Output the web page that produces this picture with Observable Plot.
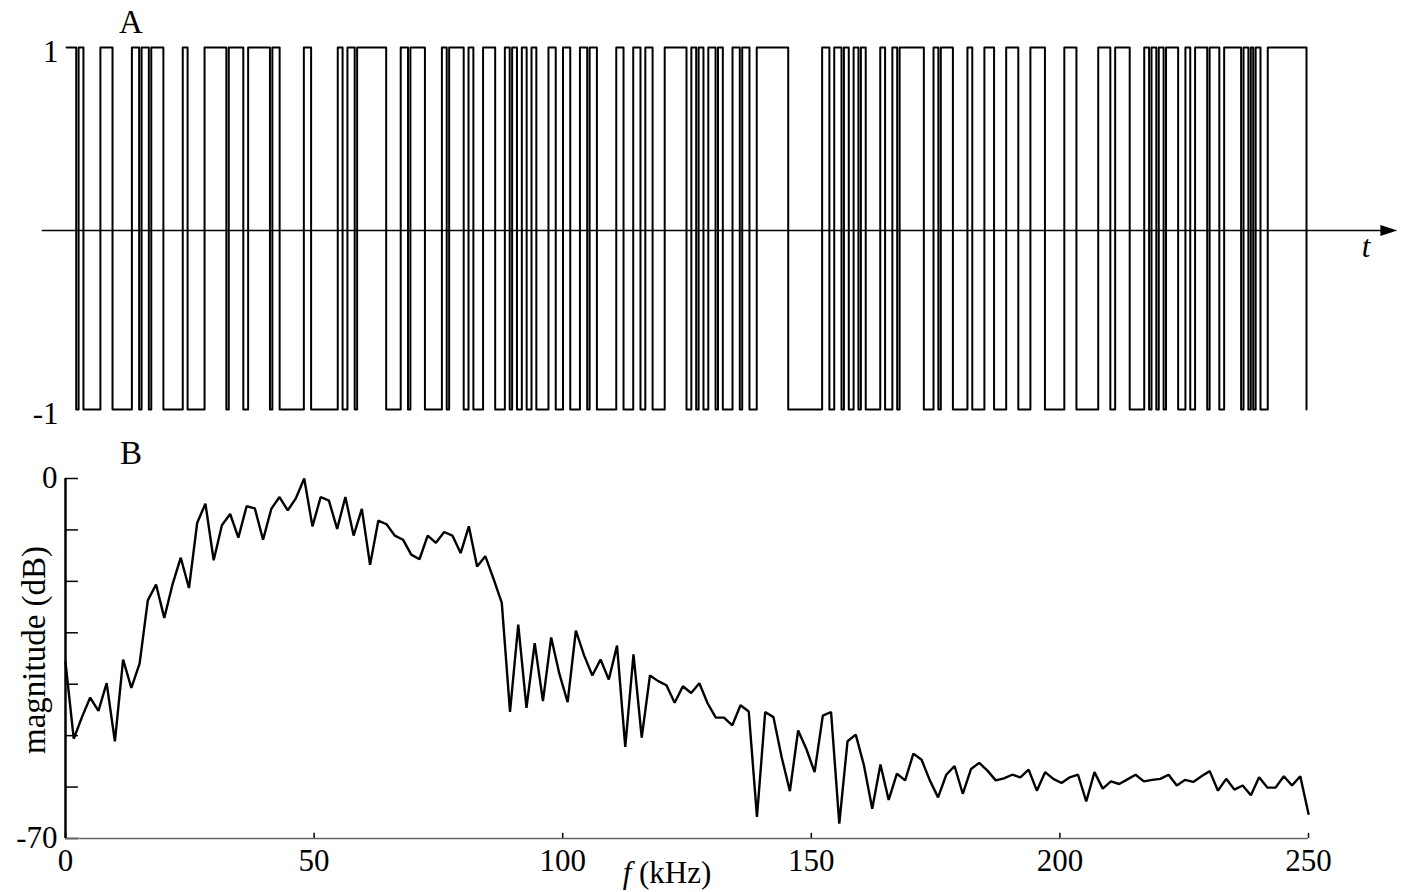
<!DOCTYPE html>
<html>
<head>
<meta charset="utf-8">
<script src="https://cdn.jsdelivr.net/npm/d3@7"></script>
<script src="https://cdn.jsdelivr.net/npm/@observablehq/plot@0.6"></script>
<style>
  html, body { margin: 0; padding: 0; background: #fff; }
  #chart svg { display: block; }
</style>
</head>
<body>
<div id="chart"></div>
<script>
// ---------- Panel A: binary sequence (chip index, level +1 / -1) ----------
const chipCount = 512;
// intervals (in chips) where the sequence is at +1; elsewhere it is -1
const highIntervals = [
  [0,4],[5,7],[14,19],[27,30],[31,34],[35,40],[48,50],[57,66],[67,73],[75,84],
  [85,88],[98,101],[112,114],[116,119],[120,132],[138,141],[142,148],[155,157],[158,164],[166,168],
  [172,177],[181,183],[184,186],[188,190],[192,194],[199,202],[205,208],[212,215],[216,219],[227,230],
  [234,237],[239,242],[247,256],[258,260],[261,263],[265,268],[269,271],[275,278],[279,282],[285,298],
  [312,315],[317,320],[321,323],[325,327],[328,330],[336,338],[341,343],[344,354],[358,360],[361,366],
  [372,374],[379,383],[388,393],[398,404],[412,417],[426,431],[433,439],[445,447],[448,450],[451,453],
  [454,459],[462,464],[466,471],[472,476],[478,485],[486,488],[489,490],[491,493],[496,512]
];
const levelTicks = [1, -1];
const levelTickLabels = ["1", "-1"];
const timeAxisExtent = [-10, 549.5];   // the t-axis runs a little past the sequence

// ---------- Panel B: magnitude spectrum ----------
const freqMaxKHz = 250;
const magnitudeDb = [
  -35.7,-50.6,-46.4,-42.6,-45.2,-39.8,-51.1,-35.2,-40.7,-36.0,
  -23.7,-20.6,-27.1,-20.6,-15.4,-21.3,-8.6,-4.9,-15.9,-9.1,
  -6.9,-11.5,-5.4,-5.8,-11.9,-5.9,-3.6,-6.2,-3.8,0,
  -9.3,-3.6,-4.3,-9.8,-3.6,-11.1,-5.9,-16.8,-8.2,-8.9,
  -11.1,-11.9,-14.8,-15.7,-11.1,-12.5,-10.4,-11.1,-14.5,-9.3,
  -17.1,-15.1,-19.5,-24.2,-45.4,-28.4,-44.6,-32.0,-43.3,-30.9,
  -38.0,-43.5,-29.6,-34.4,-38.3,-35.2,-39.1,-32.5,-52.2,-34.2,
  -50.4,-38.3,-39.4,-40.2,-43.6,-40.4,-41.7,-39.8,-43.7,-46.5,
  -46.5,-48.0,-44.1,-45.3,-65.8,-45.4,-46.4,-54.2,-60.8,-49.0,
  -52.6,-57.1,-46.1,-45.4,-67.1,-51.1,-49.8,-55.8,-64.2,-55.6,
  -62.5,-57.4,-58.7,-53.5,-54.7,-58.7,-62.0,-57.6,-55.9,-61.3,
  -56.5,-55.3,-56.8,-58.7,-58.3,-57.6,-58.1,-56.6,-60.7,-57.1,
  -58.4,-59.2,-58.1,-57.6,-62.8,-57.1,-60.3,-58.9,-59.4,-58.5,
  -57.6,-58.9,-58.6,-58.4,-57.6,-59.7,-58.6,-59.0,-57.9,-56.9,
  -60.7,-58.4,-60.5,-59.7,-61.6,-58.1,-60.1,-60.1,-57.9,-59.7,
  -57.9,-65.2
];
const freqTicks = [0, 50, 100, 150, 200, 250];
const dbTicks = [0, -10, -20, -30, -40, -50, -60, -70];
const dbTickLabels = {"0": "0", "-70": "-70"};

// ---------- build tables ----------
const signal = [];
let cursor = 0;
for (const [a, b] of highIntervals) {
  if (a > cursor) signal.push({t: cursor, v: -1});
  signal.push({t: a, v: 1});
  cursor = b;
}
signal.push({t: cursor, v: -1});
if (cursor < chipCount) signal.push({t: chipCount, v: -1});

const step = freqMaxKHz / (magnitudeDb.length - 1);
const spectrum = magnitudeDb.map((d, i) => ({f: i * step, db: d}));

const FONT = "'Liberation Serif', 'Times New Roman', serif";
const FS = 31;

// custom elongated filled arrow head
const arrowHead = {
  draw(ctx, size) {
    const L = 17, H = 5.5;
    ctx.moveTo(L / 2, 0);
    ctx.lineTo(-L / 2, -H);
    ctx.lineTo(-L / 2, H);
    ctx.closePath();
  }
};

const chartA = Plot.plot({
  width: 1414, height: 432,
  marginLeft: 66, marginRight: 108, marginTop: 47, marginBottom: 23,
  style: {fontFamily: FONT, fontSize: FS + "px", color: "black", background: "white", overflow: "visible"},
  x: {domain: [0, chipCount], axis: null},
  y: {domain: [-1, 1]},
  marks: [
    Plot.axisY({ticks: levelTicks, tickSize: 0, tickPadding: 8, label: null,
      tickFormat: d => levelTickLabels[levelTicks.indexOf(d)], dy: 5}),
    Plot.ruleY([0], {x1: timeAxisExtent[0], x2: timeAxisExtent[1] - 3, stroke: "black", strokeWidth: 1.5, dy: 2}),
    Plot.dot([{x: timeAxisExtent[1] - 3.5, y: 0}], {x: "x", y: "y", symbol: arrowHead, r: 4, fill: "black", stroke: "none", dy: 2}),
    Plot.line(signal, {x: "t", y: "v", curve: "step-after", stroke: "black", strokeWidth: 2})
  ]
});

const chartB = Plot.plot({
  width: 1414, height: 460,
  marginLeft: 65, marginRight: 106, marginTop: 46, marginBottom: 54,
  style: {fontFamily: FONT, fontSize: FS + "px", color: "black", background: "white", overflow: "visible"},
  x: {domain: [0, freqMaxKHz]},
  y: {domain: [-70, 0]},
  marks: [
    Plot.axisY({ticks: dbTicks, tickSize: 0, tickPadding: 8, label: null,
      tickFormat: d => dbTickLabels[String(d)] ?? ""}),
    Plot.axisX({ticks: freqTicks, tickSize: 0, tickPadding: 10, label: null, tickFormat: d => String(d)}),
    Plot.ruleY(dbTicks, {x1: 0, x2: 2.6, stroke: "black", strokeWidth: 1.5}),
    Plot.ruleX(freqTicks, {y1: -70, y2: -69, stroke: "black", strokeWidth: 1.5}),
    Plot.ruleY([-70], {x1: 0, x2: freqMaxKHz, stroke: "#666", strokeWidth: 1.5}),
    Plot.ruleX([0], {y1: -70, y2: 0, stroke: "black", strokeWidth: 2.5}),
    Plot.line(spectrum, {x: "f", y: "db", stroke: "black", strokeWidth: 2.4, strokeLinejoin: "miter"})
  ]
});

const root = document.getElementById("chart");
root.appendChild(chartA);
root.appendChild(chartB);

// panel letters and axis titles
const sA = d3.select(chartA);
sA.append("text").attr("x", 131).attr("y", 33).attr("text-anchor", "middle")
  .style("font-family", FONT).style("font-size", "33px").text("A");
sA.append("text").attr("x", 1366).attr("y", 257).attr("text-anchor", "middle")
  .style("font-family", FONT).style("font-size", FS + "px").style("font-style", "italic").text("t");

const sB = d3.select(chartB);
sB.append("text").attr("x", 131).attr("y", 32).attr("text-anchor", "middle")
  .style("font-family", FONT).style("font-size", "33px").text("B");
const fl = sB.append("text").attr("x", 667).attr("y", 451).attr("text-anchor", "middle")
  .style("font-family", FONT).style("font-size", FS + "px");
fl.append("tspan").style("font-style", "italic").text("f");
fl.append("tspan").text(" (kHz)");
sB.append("text").attr("transform", "translate(45,218) rotate(-90)").attr("text-anchor", "middle")
  .style("font-family", FONT).style("font-size", "33px").text("magnitude (dB)");
</script>
</body>
</html>
